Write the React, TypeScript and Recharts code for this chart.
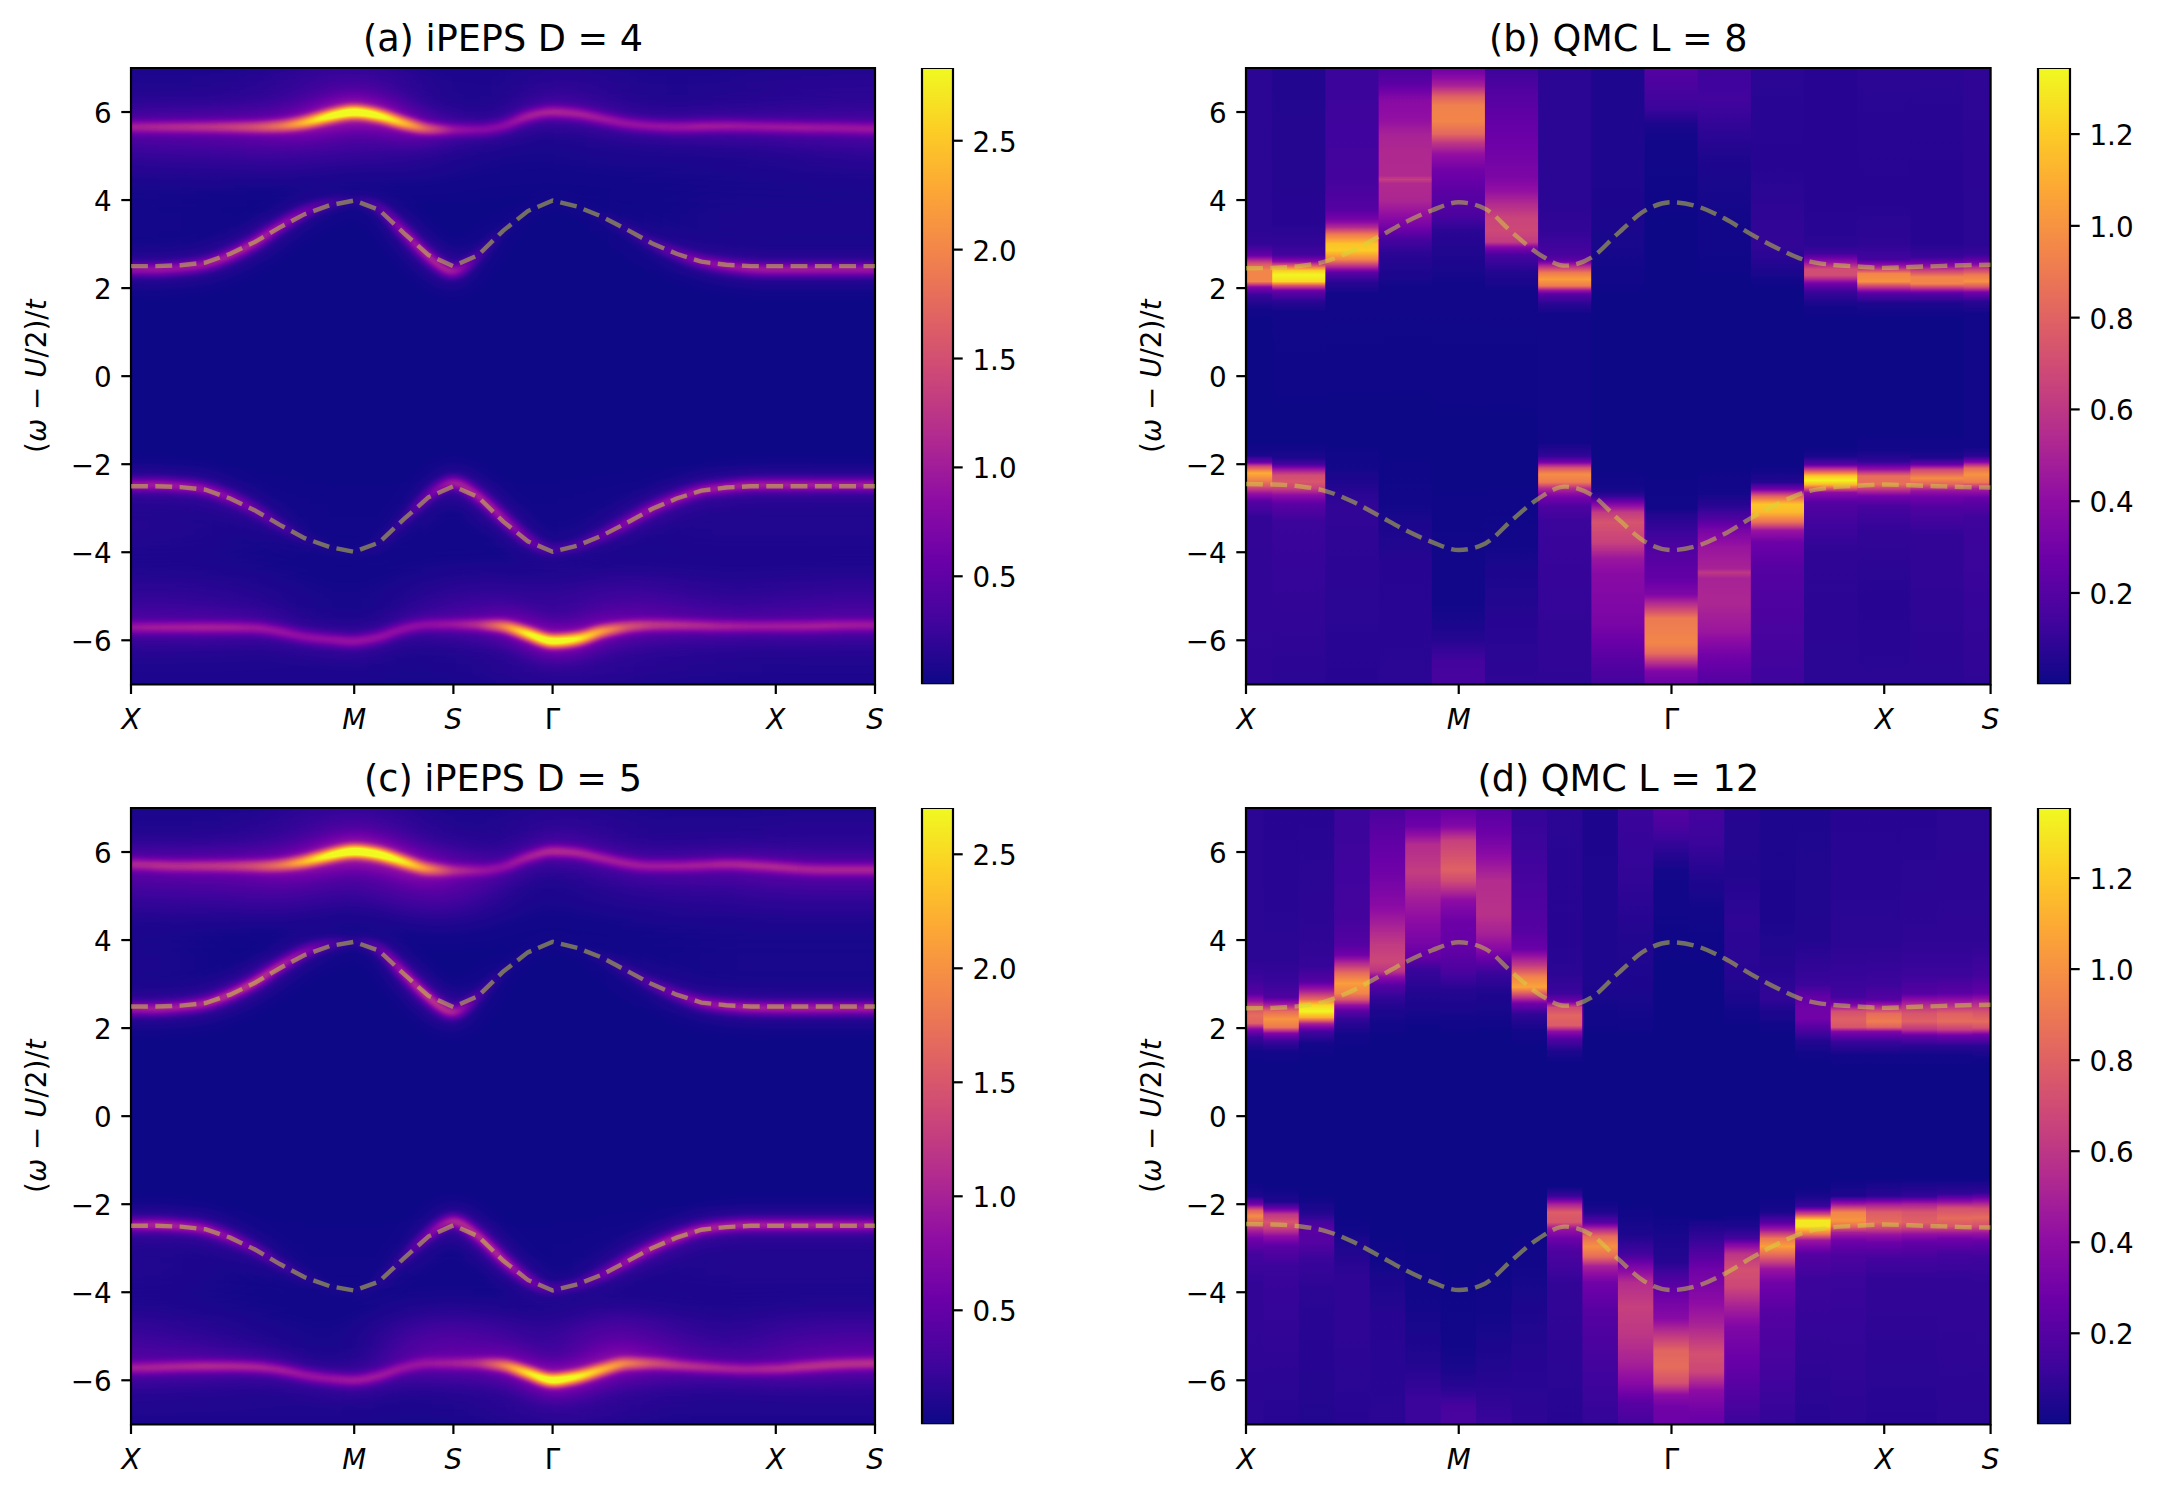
import { Bar, BarChart, ComposedChart, Line, Rectangle, ReferenceArea, XAxis, YAxis } from "recharts";

const FONT = "DejaVu Sans";
const plasmaStops = ["#0d0887", "#41049d", "#6a00a8", "#8f0da4", "#b12a90", "#cc4778", "#e16462", "#f2844b", "#fca636", "#fcce25", "#f0f921"];
const yTicks = [-6, -4, -2, 0, 2, 4, 6];

// iPEPS panels: one sample per path step, ridge position and height of each band
const ipepsTicks = [0, 9, 13, 17, 26, 30];
const ipepsTickLabels = ["X", "M", "S", "Γ", "X", "S"];
const ipepsSteps = [0, 1, 2, 3, 4, 5, 6, 7, 8, 9, 10, 11, 12, 13, 14, 15, 16, 17, 18, 19, 20, 21, 22, 23, 24, 25, 26, 27, 28, 29, 30];

const aDashUp = [2.5, 2.5, 2.52, 2.58, 2.78, 3.05, 3.38, 3.68, 3.88, 3.99, 3.78, 3.25, 2.75, 2.5, 2.75, 3.3, 3.75, 3.99, 3.85, 3.62, 3.33, 3.02, 2.78, 2.6, 2.53, 2.5, 2.5, 2.5, 2.5, 2.5, 2.5];
const aDashDown = [-2.5, -2.5, -2.52, -2.58, -2.78, -3.05, -3.38, -3.68, -3.88, -3.99, -3.78, -3.25, -2.75, -2.5, -2.75, -3.3, -3.75, -3.99, -3.85, -3.62, -3.33, -3.02, -2.78, -2.6, -2.53, -2.5, -2.5, -2.5, -2.5, -2.5, -2.5];
const cDashUp = [2.49, 2.49, 2.51, 2.57, 2.76, 3.03, 3.36, 3.66, 3.86, 3.96, 3.76, 3.23, 2.73, 2.48, 2.73, 3.28, 3.72, 3.96, 3.82, 3.6, 3.3, 3.0, 2.76, 2.58, 2.52, 2.49, 2.49, 2.49, 2.49, 2.49, 2.49];
const cDashDown = [-2.49, -2.49, -2.51, -2.57, -2.76, -3.03, -3.36, -3.66, -3.86, -3.96, -3.76, -3.23, -2.73, -2.48, -2.73, -3.28, -3.72, -3.96, -3.82, -3.6, -3.3, -3.0, -2.76, -2.58, -2.52, -2.49, -2.49, -2.49, -2.49, -2.49, -2.49];

const aOuterUpRidge = [5.66, 5.66, 5.66, 5.66, 5.66, 5.66, 5.68, 5.76, 5.9, 6.0, 5.92, 5.75, 5.62, 5.6, 5.6, 5.68, 5.9, 6.0, 5.96, 5.85, 5.74, 5.68, 5.66, 5.67, 5.68, 5.67, 5.66, 5.65, 5.64, 5.63, 5.62];
const aOuterUpLevel = [0.75, 0.8, 0.85, 0.9, 1.0, 1.15, 1.45, 2.0, 2.6, 2.9, 2.6, 2.1, 1.35, 0.75, 0.65, 0.68, 0.85, 0.9, 0.85, 0.8, 0.75, 0.75, 0.78, 0.82, 0.8, 0.75, 0.75, 0.75, 0.72, 0.7, 0.7];
const aInnerUpRidge = [2.42, 2.42, 2.46, 2.54, 2.74, 3.03, 3.4, 3.72, 3.92, 3.99, 3.82, 3.28, 2.72, 2.38, 2.72, 3.3, 3.75, 3.99, 3.85, 3.62, 3.33, 3.02, 2.78, 2.6, 2.5, 2.44, 2.42, 2.42, 2.42, 2.42, 2.42];
const aInnerUpLevel = [0.8, 0.85, 0.85, 0.88, 0.95, 1.0, 0.85, 0.6, 0.3, 0.12, 0.35, 0.8, 1.0, 0.95, 0.3, 0.08, 0.04, 0.02, 0.03, 0.08, 0.15, 0.28, 0.5, 0.7, 0.85, 0.9, 0.9, 0.9, 0.88, 0.88, 0.85];
const aInnerDownRidge = [-2.47, -2.47, -2.5, -2.57, -2.76, -3.03, -3.38, -3.7, -3.9, -3.99, -3.8, -3.28, -2.72, -2.42, -2.72, -3.22, -3.7, -3.95, -3.85, -3.62, -3.33, -3.02, -2.78, -2.6, -2.53, -2.48, -2.47, -2.47, -2.47, -2.47, -2.47];
const aInnerDownLevel = [0.85, 0.9, 0.85, 0.8, 0.7, 0.5, 0.3, 0.12, 0.05, 0.03, 0.1, 0.2, 0.55, 0.95, 0.95, 0.85, 0.55, 0.25, 0.3, 0.45, 0.65, 0.75, 0.8, 0.85, 0.9, 0.92, 0.92, 0.92, 0.9, 0.9, 0.9];
const aOuterDownRidge = [-5.71, -5.71, -5.71, -5.71, -5.71, -5.72, -5.8, -5.92, -5.98, -6.02, -5.93, -5.74, -5.65, -5.64, -5.65, -5.68, -5.85, -6.02, -5.97, -5.8, -5.7, -5.66, -5.66, -5.67, -5.68, -5.68, -5.68, -5.68, -5.67, -5.66, -5.66];
const aOuterDownLevel = [0.7, 0.75, 0.78, 0.8, 0.8, 0.78, 0.75, 0.72, 0.75, 0.8, 0.75, 0.7, 0.65, 0.7, 0.9, 1.65, 2.55, 2.9, 2.55, 1.85, 1.2, 0.95, 0.9, 0.85, 0.8, 0.75, 0.75, 0.75, 0.75, 0.72, 0.7];

const cOuterUpRidge = [5.72, 5.7, 5.68, 5.68, 5.68, 5.68, 5.7, 5.78, 5.92, 6.02, 5.95, 5.78, 5.62, 5.58, 5.58, 5.66, 5.88, 6.02, 5.98, 5.86, 5.74, 5.68, 5.68, 5.7, 5.72, 5.7, 5.66, 5.62, 5.6, 5.6, 5.6];
const cOuterUpLevel = [0.75, 0.8, 0.8, 0.85, 0.9, 1.05, 1.35, 1.9, 2.45, 2.8, 2.55, 2.2, 1.5, 0.75, 0.6, 0.62, 0.8, 0.9, 0.85, 0.78, 0.75, 0.72, 0.72, 0.75, 0.78, 0.8, 0.8, 0.75, 0.75, 0.75, 0.75];
const cInnerUpRidge = [2.44, 2.44, 2.48, 2.56, 2.76, 3.04, 3.4, 3.72, 3.9, 3.96, 3.8, 3.25, 2.7, 2.36, 2.72, 3.28, 3.72, 3.96, 3.82, 3.6, 3.3, 3.0, 2.76, 2.58, 2.5, 2.46, 2.45, 2.45, 2.45, 2.45, 2.45];
const cInnerUpLevel = [0.85, 0.9, 0.9, 0.95, 1.05, 1.1, 0.95, 0.7, 0.35, 0.12, 0.4, 0.9, 1.1, 1.0, 0.3, 0.08, 0.04, 0.02, 0.04, 0.1, 0.2, 0.35, 0.55, 0.75, 0.85, 0.9, 0.9, 0.9, 0.9, 0.88, 0.88];
const cInnerDownRidge = [-2.47, -2.47, -2.5, -2.57, -2.76, -3.02, -3.35, -3.65, -3.86, -3.96, -3.76, -3.22, -2.7, -2.38, -2.72, -3.25, -3.7, -3.93, -3.82, -3.6, -3.3, -3.0, -2.76, -2.58, -2.5, -2.47, -2.47, -2.47, -2.47, -2.47, -2.47];
const cInnerDownLevel = [0.85, 0.95, 0.9, 0.85, 0.7, 0.45, 0.25, 0.12, 0.05, 0.03, 0.08, 0.2, 0.6, 1.0, 1.0, 0.95, 0.6, 0.25, 0.3, 0.5, 0.75, 0.85, 0.9, 0.9, 0.9, 0.9, 0.9, 0.9, 0.9, 0.88, 0.85];
const cOuterDownRidge = [-5.72, -5.71, -5.69, -5.68, -5.68, -5.7, -5.76, -5.88, -5.96, -6.0, -5.9, -5.72, -5.62, -5.62, -5.62, -5.66, -5.83, -6.0, -5.92, -5.76, -5.62, -5.62, -5.66, -5.7, -5.73, -5.75, -5.74, -5.7, -5.66, -5.63, -5.62];
const cOuterDownLevel = [0.7, 0.75, 0.8, 0.85, 0.85, 0.85, 0.82, 0.75, 0.75, 0.8, 0.75, 0.62, 0.55, 0.6, 0.75, 1.45, 2.3, 2.78, 2.4, 1.85, 1.4, 1.05, 0.9, 0.85, 0.78, 0.75, 0.78, 0.82, 0.82, 0.8, 0.8];

// diffuse background either side of the sharp bands
const hazeCeilRidge = [6.6, 6.6, 6.6, 6.6, 6.6, 6.6, 6.6, 6.6, 6.6, 6.6, 6.6, 6.6, 6.6, 6.6, 6.6, 6.6, 6.6, 6.6, 6.6, 6.6, 6.6, 6.6, 6.6, 6.6, 6.6, 6.6, 6.6, 6.6, 6.6, 6.6, 6.6];
const hazeTopRidge = [5.35, 5.35, 5.35, 5.35, 5.35, 5.35, 5.35, 5.4, 5.5, 5.55, 5.5, 5.4, 5.3, 5.3, 5.3, 5.3, 5.35, 5.4, 5.4, 5.35, 5.3, 5.3, 5.3, 5.3, 5.3, 5.3, 5.3, 5.3, 5.3, 5.3, 5.3];
const hazeMidUpRidge = [3.5, 3.5, 3.5, 3.5, 3.5, 3.5, 3.5, 3.5, 3.5, 3.5, 3.5, 3.5, 3.5, 3.5, 3.5, 3.5, 3.5, 3.5, 3.5, 3.5, 3.5, 3.5, 3.5, 3.5, 3.5, 3.5, 3.5, 3.5, 3.5, 3.5, 3.5];
const hazeMidDownRidge = [-3.4, -3.4, -3.4, -3.4, -3.4, -3.4, -3.4, -3.4, -3.4, -3.4, -3.4, -3.4, -3.4, -3.4, -3.4, -3.4, -3.4, -3.4, -3.4, -3.4, -3.4, -3.4, -3.4, -3.4, -3.4, -3.4, -3.4, -3.4, -3.4, -3.4, -3.4];
const hazeBotRidge = [-5.25, -5.25, -5.25, -5.25, -5.25, -5.25, -5.25, -5.25, -5.25, -5.25, -5.25, -5.25, -5.25, -5.25, -5.25, -5.25, -5.25, -5.25, -5.25, -5.25, -5.25, -5.25, -5.25, -5.25, -5.25, -5.25, -5.25, -5.25, -5.25, -5.25, -5.25];
const hazeFloorRidge = [-6.6, -6.6, -6.6, -6.6, -6.6, -6.6, -6.6, -6.6, -6.6, -6.6, -6.6, -6.6, -6.6, -6.6, -6.6, -6.6, -6.6, -6.6, -6.6, -6.6, -6.6, -6.6, -6.6, -6.6, -6.6, -6.6, -6.6, -6.6, -6.6, -6.6, -6.6];

const aCeilLevel = [0.12, 0.12, 0.12, 0.12, 0.14, 0.16, 0.2, 0.26, 0.32, 0.34, 0.3, 0.22, 0.14, 0.1, 0.1, 0.12, 0.18, 0.2, 0.2, 0.18, 0.14, 0.12, 0.12, 0.12, 0.14, 0.14, 0.16, 0.16, 0.18, 0.18, 0.18];
const aTopLevel = [0.3, 0.32, 0.34, 0.34, 0.35, 0.36, 0.38, 0.4, 0.42, 0.4, 0.38, 0.3, 0.2, 0.14, 0.1, 0.08, 0.08, 0.09, 0.1, 0.12, 0.12, 0.12, 0.12, 0.13, 0.14, 0.16, 0.18, 0.2, 0.22, 0.24, 0.26];
const aMidUpLevel = [0.06, 0.06, 0.05, 0.04, 0.02, 0, 0, 0, 0, 0, 0, 0, 0, 0, 0, 0, 0, 0, 0, 0, 0.02, 0.04, 0.06, 0.08, 0.1, 0.1, 0.1, 0.1, 0.1, 0.1, 0.1];
const aMidDownLevel = [0.16, 0.16, 0.15, 0.13, 0.1, 0.08, 0.05, 0.03, 0.02, 0.02, 0.02, 0.03, 0.04, 0.04, 0.04, 0.03, 0.02, 0.03, 0.04, 0.06, 0.08, 0.1, 0.12, 0.14, 0.14, 0.14, 0.14, 0.14, 0.14, 0.14, 0.14];
const aBotLevel = [0.28, 0.28, 0.28, 0.26, 0.24, 0.2, 0.15, 0.1, 0.07, 0.06, 0.08, 0.14, 0.22, 0.28, 0.3, 0.3, 0.28, 0.25, 0.3, 0.38, 0.4, 0.38, 0.33, 0.28, 0.25, 0.25, 0.28, 0.3, 0.32, 0.32, 0.32];
const aFloorLevel = [0.12, 0.12, 0.12, 0.12, 0.12, 0.12, 0.12, 0.12, 0.12, 0.12, 0.1, 0.08, 0.08, 0.1, 0.12, 0.16, 0.2, 0.22, 0.22, 0.2, 0.18, 0.16, 0.14, 0.14, 0.14, 0.12, 0.12, 0.12, 0.12, 0.12, 0.12];
const cCeilLevel = [0.1, 0.1, 0.1, 0.1, 0.12, 0.14, 0.18, 0.24, 0.3, 0.34, 0.3, 0.22, 0.14, 0.1, 0.1, 0.12, 0.18, 0.2, 0.2, 0.18, 0.14, 0.12, 0.12, 0.12, 0.12, 0.12, 0.14, 0.14, 0.14, 0.14, 0.14];
const cTopLevel = [0.35, 0.36, 0.38, 0.38, 0.38, 0.42, 0.45, 0.42, 0.4, 0.35, 0.45, 0.5, 0.55, 0.5, 0.35, 0.2, 0.1, 0.1, 0.15, 0.18, 0.2, 0.22, 0.25, 0.25, 0.25, 0.28, 0.3, 0.3, 0.3, 0.3, 0.3];
const cMidUpLevel = [0.1, 0.1, 0.08, 0.05, 0.02, 0, 0, 0, 0, 0, 0, 0, 0, 0, 0, 0, 0, 0, 0, 0, 0.02, 0.04, 0.05, 0.06, 0.08, 0.08, 0.08, 0.08, 0.08, 0.08, 0.08];
const cMidDownLevel = [0.14, 0.14, 0.12, 0.1, 0.08, 0.05, 0.03, 0.02, 0.02, 0.02, 0.02, 0.03, 0.04, 0.04, 0.03, 0.02, 0.02, 0.02, 0.03, 0.05, 0.08, 0.1, 0.12, 0.13, 0.14, 0.14, 0.14, 0.14, 0.14, 0.14, 0.14];
const cBotLevel = [0.35, 0.32, 0.28, 0.25, 0.2, 0.15, 0.12, 0.08, 0.06, 0.08, 0.2, 0.38, 0.48, 0.5, 0.45, 0.4, 0.3, 0.22, 0.4, 0.62, 0.6, 0.45, 0.35, 0.28, 0.25, 0.28, 0.35, 0.4, 0.42, 0.42, 0.42];
const cFloorLevel = [0.12, 0.12, 0.12, 0.12, 0.12, 0.12, 0.12, 0.12, 0.12, 0.12, 0.1, 0.08, 0.08, 0.1, 0.12, 0.16, 0.2, 0.24, 0.24, 0.2, 0.16, 0.14, 0.12, 0.12, 0.12, 0.12, 0.12, 0.12, 0.12, 0.12, 0.12];

// QMC panels: each column lists omega, value pairs from the top of the axes to the bottom
const qmcTicks = [0, 4, 8, 12, 14];
const qmcTickLabels = ["X", "M", "Γ", "X", "S"];
const qmcDashSteps = [0, 0.5, 1, 1.5, 2, 2.5, 3, 3.5, 4, 4.5, 5, 5.5, 6, 6.5, 7, 7.5, 8, 8.5, 9, 9.5, 10, 10.5, 11, 11.5, 12, 12.5, 13, 13.5, 14];
const qmcDashUp = [2.45, 2.46, 2.5, 2.61, 2.85, 3.17, 3.5, 3.77, 3.95, 3.8, 3.27, 2.78, 2.51, 2.7, 3.25, 3.76, 3.95, 3.85, 3.58, 3.22, 2.9, 2.64, 2.53, 2.49, 2.46, 2.48, 2.5, 2.52, 2.53];
const qmcDashDown = [-2.45, -2.46, -2.5, -2.61, -2.85, -3.17, -3.5, -3.77, -3.95, -3.8, -3.27, -2.78, -2.51, -2.7, -3.25, -3.76, -3.95, -3.85, -3.58, -3.22, -2.9, -2.64, -2.53, -2.49, -2.46, -2.48, -2.5, -2.52, -2.53];

const bColumns = [
  [7, 0.08, 3.4, 0.08, 3, 0.1, 2.75, 0.25, 2.55, 0.75, 2.4, 0.95, 2.15, 0.95, 2.02, 0.35, 1.85, 0.12, 1.55, 0.02, 1.3, 0, -1.5, 0, -1.8, 0.03, -1.95, 0.25, -2.05, 0.7, -2.2, 1.1, -2.35, 0.95, -2.5, 0.75, -2.65, 0.45, -2.85, 0.2, -3.2, 0.1, -7, 0.09],
  [7, 0.06, 3.5, 0.07, 3, 0.1, 2.75, 0.15, 2.6, 0.4, 2.5, 0.8, 2.4, 1.2, 2.3, 1.34, 2.15, 1.25, 2.05, 0.7, 1.93, 0.25, 1.7, 0.08, 1.45, 0.01, -1.5, 0, -1.85, 0.04, -2, 0.15, -2.1, 0.4, -2.25, 0.7, -2.4, 0.75, -2.55, 0.65, -2.7, 0.4, -2.9, 0.22, -3.3, 0.12, -7, 0.08],
  [7, 0.12, 4.5, 0.15, 3.8, 0.2, 3.55, 0.32, 3.38, 0.55, 3.22, 0.9, 3, 1.18, 2.85, 1.2, 2.65, 0.95, 2.47, 0.5, 2.35, 0.22, 2.15, 0.08, 1.85, 0.01, -1.5, 0, -2.1, 0.02, -2.4, 0.05, -2.7, 0.08, -3, 0.1, -3.6, 0.09, -7, 0.07],
  [7, 0.16, 6.65, 0.22, 6.26, 0.38, 5.8, 0.42, 5.5, 0.5, 5.1, 0.53, 4.55, 0.54, 4.47, 0.64, 4.38, 0.54, 4, 0.52, 3.7, 0.42, 3.38, 0.3, 3.08, 0.15, 2.78, 0.08, 2.33, 0.04, 1.95, 0.01, -1.5, 0, -2.8, 0.01, -3.2, 0.03, -3.6, 0.05, -4.2, 0.07, -7, 0.08],
  [7, 0.28, 6.85, 0.35, 6.6, 0.5, 6.35, 0.8, 6.15, 0.93, 5.8, 0.95, 5.5, 0.82, 5.3, 0.6, 5.05, 0.42, 4.7, 0.3, 4.2, 0.22, 3.7, 0.18, 3.3, 0.08, 2.6, 0.04, 2, 0.01, -2, 0, -4, 0.01, -5, 0.01, -5.6, 0.03, -6, 0.07, -6.5, 0.15, -7, 0.16],
  [7, 0.12, 6.4, 0.2, 5.5, 0.27, 5, 0.3, 4.5, 0.34, 4.2, 0.42, 3.9, 0.55, 3.6, 0.66, 3.3, 0.68, 3.05, 0.62, 2.92, 0.35, 2.75, 0.16, 2.35, 0.06, 1.9, 0.01, -2, 0, -3.7, 0.01, -4.5, 0.04, -5.5, 0.07, -7, 0.09],
  [7, 0.08, 4, 0.08, 3.3, 0.1, 2.75, 0.16, 2.62, 0.25, 2.5, 0.55, 2.35, 0.9, 2.2, 1.05, 2.05, 0.9, 1.95, 0.45, 1.85, 0.2, 1.65, 0.08, 1.4, 0.01, -1.5, 0.01, -1.82, 0.1, -1.95, 0.3, -2.09, 0.75, -2.23, 0.98, -2.41, 0.9, -2.55, 0.55, -2.73, 0.32, -2.96, 0.18, -3.3, 0.12, -7, 0.09],
  [7, 0.05, 4.5, 0.05, 3, 0.03, 2.2, 0.01, 1.8, 0, -2, 0, -2.4, 0.01, -2.6, 0.03, -2.73, 0.1, -2.87, 0.3, -3.1, 0.62, -3.32, 0.73, -3.78, 0.65, -4.14, 0.45, -4.5, 0.38, -5.6, 0.33, -6.5, 0.2, -7, 0.14],
  [7, 0.2, 6.6, 0.17, 6.07, 0.12, 5.7, 0.03, 5.16, 0.01, 3, 0, -2, 0, -3, 0.01, -3.14, 0.06, -3.6, 0.13, -4.05, 0.2, -4.6, 0.25, -4.96, 0.35, -5.24, 0.62, -5.5, 0.9, -6.06, 0.95, -6.29, 0.85, -6.5, 0.58, -6.7, 0.35, -7, 0.27],
  [7, 0.13, 6.26, 0.14, 5.6, 0.09, 4.98, 0.05, 4.4, 0.03, 3, 0.01, 2, 0, -2, 0, -2.68, 0.02, -2.96, 0.08, -3.23, 0.18, -3.5, 0.32, -3.87, 0.44, -4.37, 0.5, -4.46, 0.6, -4.6, 0.5, -5.15, 0.52, -5.8, 0.45, -6.33, 0.3, -6.8, 0.22, -7, 0.2],
  [7, 0.08, 4.8, 0.07, 3.8, 0.09, 3, 0.1, 2.6, 0.07, 2.33, 0.03, 2, 0, -2, 0, -2.13, 0.01, -2.41, 0.06, -2.57, 0.3, -2.73, 0.8, -2.91, 1.18, -3.09, 1.15, -3.32, 0.85, -3.5, 0.45, -3.78, 0.28, -4.4, 0.2, -6.5, 0.14, -7, 0.13],
  [7, 0.07, 4, 0.07, 3, 0.08, 2.79, 0.13, 2.6, 0.4, 2.43, 0.7, 2.29, 0.7, 2.1, 0.3, 1.92, 0.12, 1.6, 0.02, 1.3, 0, -1.6, 0, -1.82, 0.03, -2, 0.2, -2.14, 0.7, -2.27, 1.2, -2.37, 1.33, -2.46, 1.15, -2.64, 0.4, -2.87, 0.2, -3.32, 0.14, -4, 0.09, -7, 0.08],
  [7, 0.08, 4, 0.07, 3, 0.09, 2.65, 0.15, 2.47, 0.5, 2.33, 0.95, 2.15, 1.0, 2.02, 0.6, 1.88, 0.2, 1.65, 0.04, 1.3, 0, -1.3, 0, -1.7, 0.02, -1.95, 0.1, -2.13, 0.45, -2.27, 0.85, -2.46, 0.85, -2.6, 0.55, -2.73, 0.3, -2.96, 0.16, -3.5, 0.1, -5, 0.07, -7, 0.08],
  [7, 0.08, 4.5, 0.07, 3, 0.07, 2.7, 0.12, 2.5, 0.4, 2.4, 0.65, 2.25, 0.95, 2.1, 0.95, 2, 0.6, 1.88, 0.2, 1.65, 0.04, 1.3, 0, -1.3, 0, -1.7, 0.02, -1.86, 0.05, -2, 0.25, -2.13, 0.7, -2.32, 0.98, -2.46, 0.8, -2.6, 0.45, -2.73, 0.3, -3, 0.18, -3.6, 0.1, -7, 0.08],
  [7, 0.09, 3, 0.08, 2.75, 0.12, 2.55, 0.35, 2.45, 0.6, 2.3, 0.9, 2.15, 1.0, 2.03, 0.75, 1.9, 0.3, 1.7, 0.08, 1.4, 0.01, -1.6, 0.01, -1.82, 0.08, -1.95, 0.35, -2.09, 0.85, -2.23, 1.0, -2.41, 0.9, -2.55, 0.5, -2.78, 0.25, -3.2, 0.13, -7, 0.09],
];

const dColumns = [
  [7, 0.08, 3.6, 0.08, 3.1, 0.13, 2.79, 0.2, 2.6, 0.45, 2.47, 0.72, 2.29, 0.85, 2.11, 0.8, 1.97, 0.35, 1.79, 0.12, 1.5, 0.02, 1.2, 0, -1.5, 0, -1.82, 0.04, -2, 0.3, -2.14, 0.8, -2.27, 0.98, -2.41, 0.82, -2.6, 0.5, -2.78, 0.3, -3.14, 0.15, -3.8, 0.1, -7, 0.08],
  [7, 0.07, 3.6, 0.08, 3, 0.12, 2.7, 0.18, 2.52, 0.5, 2.38, 0.85, 2.2, 1.02, 2.02, 0.9, 1.88, 0.35, 1.7, 0.12, 1.47, 0.02, 1.2, 0, -1.6, 0, -1.95, 0.05, -2.09, 0.25, -2.23, 0.6, -2.41, 0.75, -2.55, 0.65, -2.73, 0.4, -2.96, 0.22, -3.41, 0.12, -7, 0.07],
  [7, 0.07, 4, 0.09, 3.4, 0.11, 3.06, 0.2, 2.84, 0.5, 2.65, 0.85, 2.52, 1.25, 2.38, 1.35, 2.24, 1.1, 2.1, 0.5, 1.92, 0.15, 1.65, 0.02, 1.3, 0, -1.8, 0, -1.95, 0.02, -2.2, 0.06, -2.41, 0.15, -2.6, 0.22, -2.87, 0.2, -3.23, 0.12, -4, 0.08, -7, 0.06],
  [7, 0.12, 4.5, 0.15, 3.9, 0.2, 3.66, 0.3, 3.43, 0.6, 3.25, 0.85, 3.02, 1.05, 2.79, 0.95, 2.65, 0.75, 2.52, 0.42, 2.38, 0.22, 2.2, 0.1, 1.88, 0.02, 1.5, 0, -2.2, 0, -2.6, 0.01, -2.87, 0.04, -3.6, 0.09, -5, 0.09, -7, 0.07],
  [7, 0.16, 6.5, 0.22, 5.5, 0.3, 4.8, 0.38, 4.34, 0.5, 3.9, 0.62, 3.52, 0.68, 3.3, 0.6, 3.16, 0.4, 2.97, 0.2, 2.7, 0.1, 2.43, 0.05, 2.15, 0.02, 1.8, 0, -2.6, 0, -3.2, 0.01, -3.8, 0.04, -4.5, 0.07, -7, 0.08],
  [7, 0.22, 6.6, 0.28, 6.17, 0.55, 5.53, 0.63, 4.9, 0.48, 4.34, 0.38, 3.98, 0.33, 3.6, 0.25, 3.34, 0.12, 2.79, 0.06, 2.24, 0.02, 2, 0, -2.8, 0, -3.8, 0.01, -4.8, 0.03, -5.6, 0.06, -6.4, 0.12, -7, 0.12],
  [7, 0.25, 6.6, 0.35, 6.26, 0.65, 5.6, 0.8, 5.35, 0.7, 4.9, 0.4, 4.43, 0.28, 3.8, 0.25, 3.34, 0.18, 2.88, 0.07, 2.24, 0.02, 1.8, 0, -3, 0, -5, 0.01, -5.7, 0.03, -6.2, 0.08, -6.6, 0.16, -7, 0.17],
  [7, 0.2, 6.44, 0.28, 5.98, 0.38, 5.35, 0.55, 4.6, 0.58, 4.16, 0.5, 3.8, 0.38, 3.52, 0.24, 3.25, 0.12, 2.79, 0.05, 2.24, 0.02, 1.9, 0, -3, 0, -4.2, 0.01, -5, 0.03, -6, 0.07, -7, 0.12],
  [7, 0.1, 5.8, 0.14, 4.9, 0.18, 4.25, 0.2, 3.8, 0.27, 3.43, 0.62, 3.16, 0.95, 2.93, 1.07, 2.75, 0.7, 2.56, 0.3, 2.33, 0.1, 1.97, 0.02, 1.6, 0, -2.5, 0, -3.1, 0.01, -4, 0.03, -5, 0.06, -7, 0.09],
  [7, 0.08, 4, 0.07, 3.3, 0.08, 2.79, 0.12, 2.6, 0.3, 2.47, 0.7, 2.29, 0.82, 2.06, 0.78, 1.92, 0.4, 1.74, 0.18, 1.47, 0.04, 1.2, 0, -1.6, 0, -1.82, 0.12, -2, 0.5, -2.18, 0.78, -2.41, 0.75, -2.55, 0.45, -2.78, 0.28, -3.05, 0.18, -3.8, 0.1, -7, 0.07],
  [7, 0.04, 4, 0.05, 3, 0.05, 2.5, 0.02, 1.8, 0, -1.9, 0, -2.18, 0.05, -2.41, 0.2, -2.55, 0.5, -2.73, 0.85, -2.96, 1.0, -3.19, 0.85, -3.41, 0.5, -3.78, 0.3, -4.5, 0.2, -5.6, 0.15, -7, 0.1],
  [7, 0.12, 5.5, 0.1, 4.5, 0.07, 4, 0.06, 3, 0.04, 2, 0.01, 1.8, 0, -2, 0, -2.68, 0.04, -3.14, 0.15, -3.41, 0.33, -3.78, 0.55, -4.33, 0.65, -4.96, 0.6, -5.6, 0.5, -6.06, 0.38, -6.5, 0.22, -7, 0.15],
  [7, 0.2, 6.6, 0.17, 6.17, 0.1, 5.6, 0.02, 4.9, 0.01, 3, 0, -2.2, 0, -2.87, 0.04, -3.32, 0.07, -3.78, 0.2, -4.14, 0.3, -4.6, 0.38, -4.96, 0.6, -5.33, 0.82, -5.7, 0.85, -6.06, 0.72, -6.33, 0.4, -6.6, 0.3, -7, 0.28],
  [7, 0.15, 6.26, 0.13, 5.35, 0.05, 4.6, 0.01, 3, 0, -2.3, 0, -2.41, 0.03, -2.87, 0.12, -3.5, 0.3, -4.14, 0.38, -4.7, 0.5, -5.4, 0.72, -5.8, 0.68, -6.24, 0.4, -6.7, 0.3, -7, 0.26],
  [7, 0.07, 5.5, 0.06, 4.5, 0.09, 3.5, 0.08, 2.8, 0.05, 2.3, 0.01, 2, 0, -2.2, 0, -2.5, 0.04, -2.78, 0.15, -2.91, 0.35, -3.14, 0.6, -3.5, 0.72, -3.87, 0.68, -4.33, 0.5, -4.8, 0.35, -5.4, 0.28, -7, 0.12],
  [7, 0.05, 4.5, 0.04, 3.3, 0.07, 2.7, 0.1, 2.4, 0.05, 2, 0.01, 1.8, 0, -1.8, 0, -2.18, 0.03, -2.41, 0.2, -2.6, 0.5, -2.78, 0.9, -2.96, 1.05, -3.19, 0.8, -3.46, 0.45, -3.78, 0.3, -4.5, 0.2, -7, 0.1],
  [7, 0.05, 4, 0.06, 3, 0.12, 2.7, 0.25, 2.43, 0.3, 2.2, 0.3, 1.97, 0.18, 1.7, 0.06, 1.4, 0.01, 1.2, 0, -1.6, 0, -1.82, 0.03, -2.05, 0.12, -2.23, 0.7, -2.37, 1.3, -2.5, 1.3, -2.68, 0.9, -2.82, 0.45, -3.14, 0.2, -3.7, 0.13, -7, 0.07],
  [7, 0.07, 4, 0.08, 3, 0.12, 2.7, 0.15, 2.52, 0.35, 2.38, 0.72, 2.2, 0.8, 2.02, 0.75, 1.92, 0.35, 1.7, 0.12, 1.4, 0.02, 1.1, 0, -1.4, 0, -1.82, 0.05, -2, 0.45, -2.18, 0.95, -2.37, 1.02, -2.5, 0.85, -2.64, 0.5, -2.82, 0.3, -3.14, 0.18, -3.7, 0.12, -7, 0.08],
  [7, 0.07, 4, 0.08, 3, 0.13, 2.65, 0.2, 2.47, 0.55, 2.33, 0.85, 2.15, 0.92, 2.02, 0.8, 1.92, 0.35, 1.7, 0.12, 1.4, 0.02, 1.1, 0, -1.4, 0, -1.82, 0.08, -2, 0.48, -2.18, 0.78, -2.41, 0.85, -2.55, 0.68, -2.68, 0.45, -2.87, 0.28, -3.23, 0.15, -3.7, 0.1, -7, 0.07],
  [7, 0.07, 4, 0.09, 3.2, 0.13, 2.79, 0.2, 2.52, 0.55, 2.33, 0.75, 2.15, 0.8, 1.97, 0.6, 1.83, 0.25, 1.6, 0.08, 1.4, 0.02, 1.1, 0, -1.4, 0, -1.82, 0.1, -2, 0.5, -2.18, 0.75, -2.41, 0.8, -2.55, 0.65, -2.68, 0.42, -2.87, 0.25, -3.23, 0.15, -3.7, 0.1, -7, 0.07],
  [7, 0.08, 4, 0.09, 3.2, 0.13, 2.8, 0.22, 2.52, 0.55, 2.33, 0.8, 2.15, 0.85, 1.97, 0.65, 1.83, 0.28, 1.6, 0.08, 1.4, 0.02, 1.1, 0, -1.4, 0, -1.77, 0.1, -1.95, 0.42, -2.09, 0.72, -2.32, 0.85, -2.5, 0.75, -2.64, 0.48, -2.78, 0.3, -3.14, 0.15, -3.7, 0.1, -7, 0.08],
  [7, 0.08, 4, 0.09, 3.2, 0.15, 2.8, 0.25, 2.55, 0.55, 2.35, 0.75, 2.15, 0.85, 2, 0.72, 1.85, 0.3, 1.6, 0.08, 1.3, 0.01, 1.1, 0, -1.4, 0, -1.75, 0.1, -1.95, 0.45, -2.1, 0.72, -2.3, 0.85, -2.5, 0.72, -2.65, 0.45, -2.85, 0.25, -3.2, 0.14, -3.8, 0.1, -7, 0.08],
];

const hex = (s: string, i: number) => parseInt(s.slice(1 + 2 * i, 3 + 2 * i), 16) / 255;
const tableValues = (i: number) => plasmaStops.map((s) => hex(s, i).toFixed(4)).join(" ");
const grey = (v: number, vmax: number) => {
  const g = Math.round(Math.min(1, Math.max(0, v / vmax)) * 255);
  return `rgb(${g},${g},${g})`;
};

const tickStyle = { fontSize: 27.78, fill: "#000", fontFamily: FONT, dy: 1.2 };
const tickLine = { stroke: "#000", strokeWidth: 2.2 };
const minus = (v: number) => String(v).replace("-", "−");

function PathTick({ x, y, payload, labels, ticks }: any) {
  const label = labels[ticks.indexOf(payload.value)];
  return (
    <text x={x} y={y + 33} textAnchor="middle" fontFamily={FONT} fontSize={27.78} fontStyle={label === "Γ" ? "normal" : "italic"}>
      {label}
    </text>
  );
}

// sharp bands plus their diffuse surroundings, drawn as grey lines and coloured by the plasma filter
function BandHeat({ id, vmax, bands, hazes, w, h }: any) {
  const pad = (w * 2) / 30;
  const cols = [{ k: -2, i: 0 }, ...ipepsSteps.map((k, i) => ({ k, i })), { k: 32, i: 30 }];
  const rows = cols.map(({ k, i }) => {
    const row: any = { k };
    bands.forEach((b: any, j: number) => (row[`b${j}`] = b[0][i]));
    hazes.forEach((b: any, j: number) => (row[`h${j}`] = b[0][i]));
    return row;
  });
  const grad = (name: string, level: number[], gain: number) => (
    <linearGradient key={name} id={name} gradientUnits="userSpaceOnUse" x1={pad} x2={pad + w} y1={0} y2={0}>
      {level.map((v, i) => (
        <stop key={i} offset={i / 30} stopColor={grey(v * gain, vmax)} />
      ))}
    </linearGradient>
  );
  const line = (key: string, dataKey: string, stroke: string, width: number, blur: number) => (
    <Line
      key={key}
      dataKey={dataKey}
      type="monotone"
      stroke={`url(#${stroke})`}
      strokeWidth={width}
      dot={false}
      activeDot={false}
      isAnimationActive={false}
      style={{ filter: `blur(${blur}px)`, mixBlendMode: "plus-lighter" }}
    />
  );
  return (
    <div style={{ position: "absolute", left: -pad, top: 0, background: "#000" }}>
      <ComposedChart width={w + 2 * pad} height={h} data={rows} margin={{ top: 0, right: 0, bottom: 0, left: 0 }}>
        <defs>
          {hazes.map((b: any, j: number) => grad(`${id}-h${j}`, b[1], 1.5))}
          {bands.map((b: any, j: number) => grad(`${id}-s${j}`, b[1], 0.3))}
          {bands.map((b: any, j: number) => grad(`${id}-c${j}`, b[1], 1))}
        </defs>
        <XAxis hide type="number" dataKey="k" domain={[-2, 32]} />
        <YAxis hide domain={[-7, 7]} />
        {hazes.map((b: any, j: number) => line(`h${j}`, `h${j}`, `${id}-h${j}`, 34, 24))}
        {bands.map((b: any, j: number) => line(`s${j}`, `b${j}`, `${id}-s${j}`, 24, 10))}
        {bands.map((b: any, j: number) => line(`c${j}`, `b${j}`, `${id}-c${j}`, 9, 3.5))}
      </ComposedChart>
    </div>
  );
}

// QMC columns: bars spanning the whole energy axis, shaded by a vertical gradient of the column values
function ColumnHeat({ id, vmax, columns, step, w, h }: any) {
  const rows = columns.map((_: number[], i: number) => ({ k: i * step, span: [-7, 7] }));
  const column = (p: any) => (
    <Rectangle x={p.x - 0.4} y={p.y} width={p.width + 0.8} height={p.height} fill={`url(#${id}-${p.index})`} />
  );
  return (
    <BarChart width={w} height={h} data={rows} margin={{ top: 0, right: 0, bottom: 0, left: 0 }}>
      <defs>
        {columns.map((col: number[], i: number) => (
          <linearGradient key={i} id={`${id}-${i}`} x1={0} y1={0} x2={0} y2={1}>
            {col.map((_, n) =>
              n % 2 === 0 ? <stop key={n} offset={(7 - col[n]) / 14} stopColor={grey(col[n + 1], vmax)} /> : null
            )}
          </linearGradient>
        ))}
      </defs>
      <XAxis hide type="number" dataKey="k" domain={[0, 14]} />
      <YAxis hide domain={[-7, 7]} />
      <Bar dataKey="span" barSize={(w * step) / 14 - 0.02} shape={column} isAnimationActive={false} />
    </BarChart>
  );
}

function Frame({ title, left, top, w, h, xMax, ticks, labels, steps, up, down, smooth, children }: any) {
  const rows = steps.map((k: number, i: number) => ({ k, up: up[i], down: down[i] }));
  const dash = (key: string) => (
    <Line
      dataKey={key}
      type={smooth ? "monotone" : "linear"}
      stroke="#d2d73c"
      strokeOpacity={0.5}
      strokeWidth={4.4}
      strokeDasharray="16.9 7.4"
      dot={false}
      activeDot={false}
      isAnimationActive={false}
    />
  );
  return (
    <>
      <div style={{ position: "absolute", left, top, width: w, height: h, overflow: "hidden", filter: "url(#plasma)", background: "#000" }}>
        {children}
      </div>
      <div style={{ position: "absolute", left: left - 120, top: top - 60 }}>
        <ComposedChart width={w + 240} height={h + 120} data={rows} margin={{ top: 60, right: 120, bottom: 0, left: 0 }}>
          <XAxis
            type="number"
            dataKey="k"
            domain={[0, xMax]}
            ticks={ticks}
            interval={0}
            height={60}
            axisLine={false}
            tickLine={tickLine}
            tickSize={9.7}
            tick={<PathTick labels={labels} ticks={ticks} />}
          />
          <YAxis
            type="number"
            domain={[-7, 7]}
            ticks={yTicks}
            interval={0}
            width={120}
            axisLine={false}
            tickLine={tickLine}
            tickSize={9.7}
            tickMargin={9.7}
            tick={tickStyle}
            tickFormatter={minus}
          />
          {dash("up")}
          {dash("down")}
          <ReferenceArea x1={0} x2={xMax} y1={-7} y2={7} fill="none" stroke="#000" strokeWidth={2.2} fillOpacity={0} ifOverflow="visible" />
          <text x={120 + w / 2} y={60 - 16.7} textAnchor="middle" fontFamily={FONT} fontSize={36.6}>
            {title}
          </text>
          <text x={35} y={60 + h / 2} transform={`rotate(-90 35 ${60 + h / 2})`} textAnchor="middle" fontFamily={FONT} fontSize={27.78}>
            (<tspan fontStyle="italic">ω</tspan> − <tspan fontStyle="italic">U</tspan>/2)/<tspan fontStyle="italic">t</tspan>
          </text>
        </ComposedChart>
      </div>
    </>
  );
}

function ColorBar({ id, left, top, w, h, vmin, vmax, ticks }: any) {
  return (
    <div style={{ position: "absolute", left: left - 5, top: top - 5 }}>
      <BarChart
        width={w + 125}
        height={h + 10}
        data={[{ k: "c", span: [vmin, vmax] }]}
        margin={{ top: 5, right: 0, bottom: 5, left: 5 }}
        barCategoryGap={0}
      >
        <defs>
          <linearGradient id={id} x1={0} y1={1} x2={0} y2={0}>
            {plasmaStops.map((c, i) => (
              <stop key={i} offset={i / 10} stopColor={c} />
            ))}
          </linearGradient>
        </defs>
        <XAxis hide dataKey="k" />
        <YAxis
          orientation="right"
          type="number"
          domain={[vmin, vmax]}
          allowDataOverflow
          ticks={ticks}
          interval={0}
          width={120}
          axisLine={false}
          tickLine={tickLine}
          tickSize={9.7}
          tickMargin={9.7}
          tick={tickStyle}
          tickFormatter={(v: number) => v.toFixed(1)}
        />
        <Bar dataKey="span" fill={`url(#${id})`} stroke="#000" strokeWidth={2.2} isAnimationActive={false} />
      </BarChart>
    </div>
  );
}

const aBands = [
  [aOuterUpRidge, aOuterUpLevel],
  [aInnerUpRidge, aInnerUpLevel],
  [aInnerDownRidge, aInnerDownLevel],
  [aOuterDownRidge, aOuterDownLevel],
];
const aHazes = [
  [hazeCeilRidge, aCeilLevel],
  [hazeTopRidge, aTopLevel],
  [hazeMidUpRidge, aMidUpLevel],
  [hazeMidDownRidge, aMidDownLevel],
  [hazeBotRidge, aBotLevel],
  [hazeFloorRidge, aFloorLevel],
];
const cBands = [
  [cOuterUpRidge, cOuterUpLevel],
  [cInnerUpRidge, cInnerUpLevel],
  [cInnerDownRidge, cInnerDownLevel],
  [cOuterDownRidge, cOuterDownLevel],
];
const cHazes = [
  [hazeCeilRidge, cCeilLevel],
  [hazeTopRidge, cTopLevel],
  [hazeMidUpRidge, cMidUpLevel],
  [hazeMidDownRidge, cMidDownLevel],
  [hazeBotRidge, cBotLevel],
  [hazeFloorRidge, cFloorLevel],
];

export default function App() {
  const leftA = 131;
  const leftB = 1246.4;
  const topA = 67.5;
  const topC = 807.7;
  const wA = 744;
  const wB = 744.6;
  const h = 616.3;
  const ipeps = { w: wA, h, xMax: 30, ticks: ipepsTicks, labels: ipepsTickLabels, steps: ipepsSteps };
  const qmc = { w: wB, h, xMax: 14, ticks: qmcTicks, labels: qmcTickLabels, steps: qmcDashSteps, up: qmcDashUp, down: qmcDashDown, smooth: true };
  return (
    <div style={{ position: "absolute", left: 0, top: 0, width: 2160, height: 1496, background: "#fff", overflow: "hidden" }}>
      <svg width={0} height={0} style={{ position: "absolute" }}>
        <filter id="plasma" colorInterpolationFilters="sRGB" x="0" y="0" width="1" height="1">
          <feComponentTransfer>
            <feFuncR type="table" tableValues={tableValues(0)} />
            <feFuncG type="table" tableValues={tableValues(1)} />
            <feFuncB type="table" tableValues={tableValues(2)} />
          </feComponentTransfer>
        </filter>
      </svg>

      <Frame title="(a) iPEPS D = 4" left={leftA} top={topA} {...ipeps} up={aDashUp} down={aDashDown}>
        <BandHeat id="a" vmax={2.83} bands={aBands} hazes={aHazes} w={wA} h={h} />
      </Frame>
      <ColorBar id="cbar-a" left={922} top={topA} w={31} h={h} vmin={0.004} vmax={2.834} ticks={[0.5, 1, 1.5, 2, 2.5]} />

      <Frame title="(b) QMC L = 8" left={leftB} top={topA} {...qmc}>
        <ColumnHeat id="b" vmax={1.344} columns={bColumns} step={1} w={wB} h={h} />
      </Frame>
      <ColorBar id="cbar-b" left={2037.5} top={topA} w={32} h={h} vmin={0.001} vmax={1.344} ticks={[0.2, 0.4, 0.6, 0.8, 1, 1.2]} />

      <Frame title="(c) iPEPS D = 5" left={leftA} top={topC} {...ipeps} up={cDashUp} down={cDashDown}>
        <BandHeat id="c" vmax={2.703} bands={cBands} hazes={cHazes} w={wA} h={h} />
      </Frame>
      <ColorBar id="cbar-c" left={922} top={topC} w={31} h={h} vmin={0} vmax={2.703} ticks={[0.5, 1, 1.5, 2, 2.5]} />

      <Frame title="(d) QMC L = 12" left={leftB} top={topC} {...qmc}>
        <ColumnHeat id="d" vmax={1.354} columns={dColumns} step={2 / 3} w={wB} h={h} />
      </Frame>
      <ColorBar id="cbar-d" left={2037.5} top={topC} w={32} h={h} vmin={0} vmax={1.354} ticks={[0.2, 0.4, 0.6, 0.8, 1, 1.2]} />
    </div>
  );
}
